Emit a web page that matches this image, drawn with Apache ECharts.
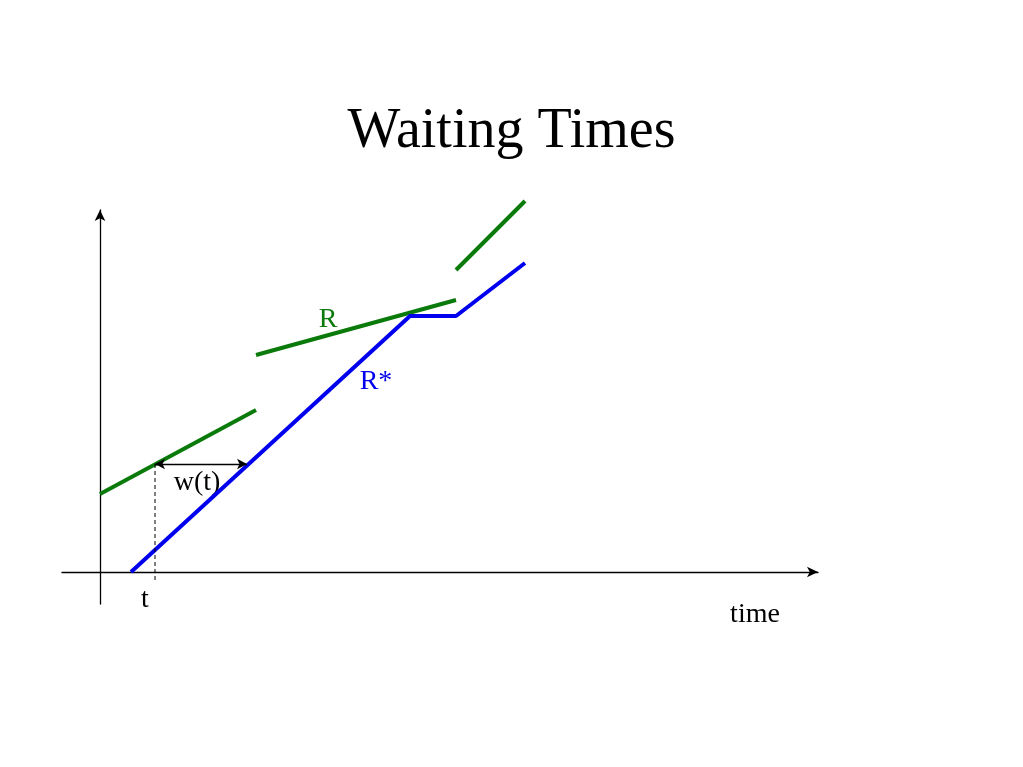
<!DOCTYPE html>
<html>
<head>
<meta charset="utf-8">
<script src="https://cdn.jsdelivr.net/npm/echarts@6/dist/echarts.min.js"></script>
<style>html,body{margin:0;padding:0;background:#fff;}#c{width:1023px;height:767px;}</style>
</head>
<body>
<div id="c"></div>
<script>
// Green R segments (time, value)
const rSegment1 = [[0, 78], [156, 162]];
const rSegment2 = [[156, 217], [356, 272]];
const rSegment3 = [[356, 302], [425, 371]];
// Blue R* curve
const rStar = [[31, 0], [310, 256], [356, 256], [425, 309]];
// Dashed marker at t
const tMarker = [[55, 108], [55, -8]];
// w(t) interval
const waitStart = [55, 108];
const waitEnd = [147, 108];
// Text labels
const labels = [
  { name: 'R', value: [228, 252], color: '#0a7a0a' },
  { name: 'R*', value: [276, 190], color: '#0000ee' },
  { name: 'w(t)', value: [97, 89], color: '#000' },
  { name: 't', value: [45, -28], color: '#000' },
  { name: 'time', value: [655, -43], color: '#000' }
];

const green = '#0a7a0a';
const blue = '#0000ee';
const serif = '"Liberation Serif", "Times New Roman", serif';

const chart = echarts.init(document.getElementById('c'));
function seg(data, color, width, type) {
  return {
    type: 'line', data: data, symbol: 'none', clip: false, animation: false,
    lineStyle: { color: color, width: width, type: type || 'solid' }
  };
}
chart.setOption({
  backgroundColor: '#fff',
  animation: false,
  title: {
    text: 'Waiting Times', left: 'center', top: 99,
    textStyle: { fontFamily: serif, fontSize: 56, fontWeight: 'normal', color: '#000' }
  },
  grid: { left: 62, right: 205, top: 210, bottom: 163 },
  xAxis: {
    type: 'value', min: -38, max: 718,
    axisLine: { onZero: true, symbol: ['none', 'arrow'], symbolSize: [8, 11], lineStyle: { color: '#000', width: 1.3 } },
    axisTick: { show: false }, axisLabel: { show: false }, splitLine: { show: false }
  },
  yAxis: {
    type: 'value', min: -32, max: 362,
    axisLine: { onZero: true, symbol: ['none', 'arrow'], symbolSize: [8, 11], lineStyle: { color: '#000', width: 1.3 } },
    axisTick: { show: false }, axisLabel: { show: false }, splitLine: { show: false }
  },
  series: [
    seg(rSegment1, green, 4),
    seg(rSegment2, green, 4),
    seg(rSegment3, green, 4),
    seg(rStar, blue, 4),
    seg(tMarker, '#000', 1, [4, 3]),
    {
      type: 'line', data: [], symbol: 'none',
      markLine: {
        silent: true, symbol: ['arrow', 'arrow'], symbolSize: [8, 10],
        label: { show: false },
        lineStyle: { color: '#000', width: 1.3, type: 'solid' },
        data: [[{ coord: waitStart }, { coord: waitEnd }]]
      }
    },
    {
      type: 'scatter', symbolSize: 0, clip: false,
      itemStyle: { opacity: 1 },
      data: labels.map(l => ({
        name: l.name, value: l.value,
        label: { show: true, position: 'inside', formatter: l.name, color: l.color, opacity: 1, fontFamily: serif, fontSize: 28 }
      }))
    }
  ]
});
</script>
</body>
</html>
